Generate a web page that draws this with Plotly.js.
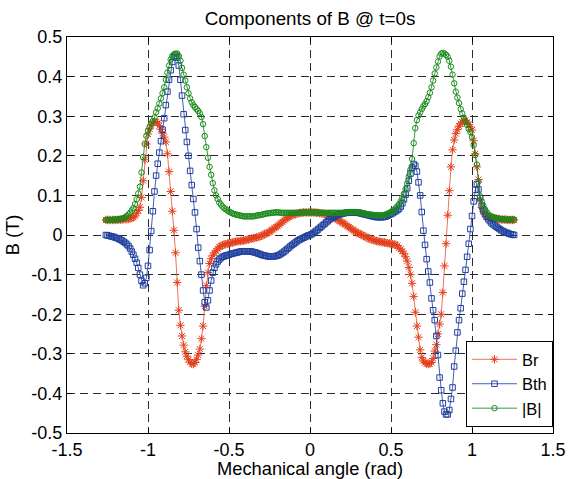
<!DOCTYPE html>
<html>
<head>
<meta charset="utf-8">
<script src="https://cdn.plot.ly/plotly-3.0.1.min.js"></script>
<style>html,body{margin:0;padding:0;background:#fff;}#chart{width:568px;height:479px;}</style>
</head>
<body>
<div id="chart"></div>
<script>
// Mechanical angle (rad)
const angle = [
-1.26,-1.25,-1.24,-1.23,-1.22,-1.21,-1.20,-1.19,-1.18,-1.17,
-1.16,-1.15,-1.14,-1.13,-1.12,-1.11,-1.10,-1.09,-1.08,-1.07,
-1.06,-1.05,-1.04,-1.03,-1.02,-1.01,-1.00,-0.99,-0.98,-0.97,
-0.96,-0.95,-0.94,-0.93,-0.92,-0.91,-0.90,-0.89,-0.88,-0.87,
-0.86,-0.85,-0.84,-0.83,-0.82,-0.81,-0.80,-0.79,-0.78,-0.77,
-0.76,-0.75,-0.74,-0.73,-0.72,-0.71,-0.70,-0.69,-0.68,-0.67,
-0.66,-0.65,-0.64,-0.63,-0.62,-0.61,-0.60,-0.59,-0.58,-0.57,
-0.56,-0.55,-0.54,-0.53,-0.52,-0.51,-0.50,-0.49,-0.48,-0.47,
-0.46,-0.45,-0.44,-0.43,-0.42,-0.41,-0.40,-0.39,-0.38,-0.37,
-0.36,-0.35,-0.34,-0.33,-0.32,-0.31,-0.30,-0.29,-0.28,-0.27,
-0.26,-0.25,-0.24,-0.23,-0.22,-0.21,-0.20,-0.19,-0.18,-0.17,
-0.16,-0.15,-0.14,-0.13,-0.12,-0.11,-0.10,-0.09,-0.08,-0.07,
-0.06,-0.05,-0.04,-0.03,-0.02,-0.01,0.00,0.01,0.02,0.03,
0.04,0.05,0.06,0.07,0.08,0.09,0.10,0.11,0.12,0.13,
0.14,0.15,0.16,0.17,0.18,0.19,0.20,0.21,0.22,0.23,
0.24,0.25,0.26,0.27,0.28,0.29,0.30,0.31,0.32,0.33,
0.34,0.35,0.36,0.37,0.38,0.39,0.40,0.41,0.42,0.43,
0.44,0.45,0.46,0.47,0.48,0.49,0.50,0.51,0.52,0.53,
0.54,0.55,0.56,0.57,0.58,0.59,0.60,0.61,0.62,0.63,
0.64,0.65,0.66,0.67,0.68,0.69,0.70,0.71,0.72,0.73,
0.74,0.75,0.76,0.77,0.78,0.79,0.80,0.81,0.82,0.83,
0.84,0.85,0.86,0.87,0.88,0.89,0.90,0.91,0.92,0.93,
0.94,0.95,0.96,0.97,0.98,0.99,1.00,1.01,1.02,1.03,
1.04,1.05,1.06,1.07,1.08,1.09,1.10,1.11,1.12,1.13,
1.14,1.15,1.16,1.17,1.18,1.19,1.20,1.21,1.22,1.23,
1.24,1.25,1.26
];

// Br (T)
const Br = [
0.038,0.038,0.038,0.038,0.038,0.038,0.038,0.038,0.039,0.039,
0.039,0.040,0.040,0.040,0.041,0.042,0.043,0.045,0.048,0.055,
0.062,0.070,0.095,0.137,0.190,0.230,0.255,0.268,0.278,0.283,
0.286,0.286,0.283,0.276,0.267,0.257,0.247,0.235,0.205,0.160,
0.110,0.060,0.012,-0.045,-0.120,-0.190,-0.228,-0.255,-0.278,-0.295,
-0.306,-0.315,-0.321,-0.325,-0.326,-0.322,-0.314,-0.303,-0.288,-0.262,
-0.230,-0.180,-0.128,-0.095,-0.072,-0.060,-0.051,-0.045,-0.040,-0.035,
-0.030,-0.028,-0.026,-0.024,-0.023,-0.022,-0.021,-0.020,-0.019,-0.018,
-0.017,-0.016,-0.016,-0.015,-0.015,-0.014,-0.013,-0.012,-0.011,-0.010,
-0.009,-0.008,-0.007,-0.006,-0.005,-0.004,-0.002,0.000,0.002,0.004,
0.006,0.008,0.011,0.014,0.017,0.020,0.023,0.026,0.030,0.033,
0.037,0.040,0.043,0.046,0.048,0.050,0.052,0.053,0.054,0.055,
0.056,0.056,0.057,0.057,0.057,0.057,0.057,0.057,0.057,0.057,
0.056,0.056,0.055,0.055,0.054,0.053,0.052,0.051,0.050,0.048,
0.046,0.044,0.041,0.039,0.036,0.034,0.031,0.029,0.026,0.023,
0.020,0.017,0.014,0.011,0.009,0.006,0.004,0.002,0.000,-0.002,
-0.004,-0.006,-0.008,-0.010,-0.011,-0.013,-0.014,-0.015,-0.016,-0.017,
-0.018,-0.018,-0.019,-0.020,-0.021,-0.021,-0.022,-0.023,-0.024,-0.025,
-0.027,-0.033,-0.036,-0.041,-0.047,-0.055,-0.066,-0.082,-0.100,-0.122,
-0.155,-0.195,-0.230,-0.258,-0.290,-0.309,-0.318,-0.322,-0.325,-0.326,
-0.325,-0.322,-0.312,-0.293,-0.277,-0.250,-0.225,-0.200,-0.145,-0.078,
-0.022,0.050,0.112,0.172,0.215,0.240,0.256,0.266,0.275,0.281,
0.285,0.288,0.289,0.285,0.279,0.273,0.265,0.238,0.205,0.172,
0.140,0.090,0.070,0.060,0.052,0.048,0.045,0.044,0.043,0.042,
0.041,0.041,0.040,0.040,0.039,0.039,0.039,0.039,0.038,0.038,
0.038,0.038,0.038
];

// Bth (T)
const Bth = [
0.000,-0.001,-0.002,-0.003,-0.004,-0.005,-0.007,-0.008,-0.010,-0.012,
-0.014,-0.017,-0.020,-0.024,-0.028,-0.034,-0.042,-0.050,-0.060,-0.070,
-0.083,-0.100,-0.116,-0.127,-0.122,-0.108,-0.078,-0.038,0.010,0.060,
0.110,0.150,0.180,0.208,0.237,0.266,0.295,0.328,0.362,0.392,
0.416,0.437,0.449,0.453,0.448,0.428,0.392,0.352,0.305,0.265,
0.235,0.200,0.162,0.126,0.091,0.057,0.015,-0.032,-0.066,-0.100,
-0.140,-0.170,-0.183,-0.165,-0.140,-0.115,-0.095,-0.083,-0.074,-0.067,
-0.062,-0.058,-0.055,-0.054,-0.052,-0.051,-0.050,-0.048,-0.047,-0.046,
-0.045,-0.044,-0.043,-0.042,-0.041,-0.041,-0.041,-0.041,-0.041,-0.041,
-0.042,-0.043,-0.044,-0.045,-0.047,-0.048,-0.050,-0.051,-0.052,-0.053,
-0.054,-0.054,-0.054,-0.054,-0.054,-0.053,-0.052,-0.050,-0.048,-0.045,
-0.042,-0.039,-0.035,-0.032,-0.028,-0.025,-0.022,-0.019,-0.016,-0.013,
-0.011,-0.009,-0.007,-0.005,-0.003,-0.001,0.000,0.002,0.005,0.008,
0.011,0.014,0.018,0.021,0.025,0.028,0.032,0.035,0.039,0.042,
0.044,0.046,0.048,0.050,0.052,0.053,0.054,0.055,0.056,0.056,
0.057,0.057,0.057,0.057,0.057,0.056,0.056,0.055,0.054,0.053,
0.052,0.051,0.050,0.049,0.048,0.047,0.046,0.045,0.045,0.045,
0.045,0.045,0.046,0.047,0.049,0.051,0.053,0.055,0.058,0.060,
0.063,0.066,0.072,0.080,0.090,0.102,0.118,0.137,0.155,0.170,
0.179,0.175,0.160,0.133,0.100,0.058,0.011,-0.025,-0.061,-0.092,
-0.120,-0.160,-0.190,-0.215,-0.255,-0.303,-0.360,-0.392,-0.425,-0.446,
-0.453,-0.453,-0.442,-0.414,-0.385,-0.332,-0.292,-0.246,-0.215,-0.185,
-0.148,-0.118,-0.088,-0.055,-0.022,0.015,0.048,0.085,0.114,0.128,
0.115,0.093,0.074,0.062,0.053,0.046,0.040,0.035,0.030,0.027,
0.024,0.021,0.018,0.015,0.012,0.010,0.008,0.006,0.005,0.003,
0.002,0.001,0.000
];

// |B| (T)
const Babs = [
0.038,0.038,0.038,0.038,0.038,0.039,0.039,0.039,0.040,0.040,
0.041,0.043,0.045,0.048,0.052,0.056,0.062,0.068,0.078,0.090,
0.105,0.122,0.158,0.197,0.230,0.250,0.263,0.272,0.281,0.288,
0.297,0.310,0.320,0.332,0.345,0.358,0.373,0.392,0.410,0.428,
0.443,0.452,0.456,0.458,0.458,0.452,0.440,0.422,0.405,0.390,
0.373,0.358,0.345,0.335,0.328,0.323,0.318,0.313,0.307,0.298,
0.280,0.250,0.222,0.195,0.172,0.152,0.131,0.113,0.100,0.091,
0.082,0.077,0.072,0.068,0.065,0.062,0.059,0.057,0.055,0.053,
0.052,0.051,0.050,0.049,0.048,0.047,0.047,0.047,0.047,0.047,
0.047,0.047,0.048,0.049,0.050,0.050,0.051,0.052,0.053,0.054,
0.055,0.055,0.056,0.056,0.057,0.057,0.057,0.057,0.056,0.056,
0.056,0.056,0.056,0.056,0.056,0.056,0.056,0.056,0.056,0.056,
0.057,0.057,0.057,0.057,0.057,0.057,0.057,0.057,0.057,0.057,
0.057,0.057,0.056,0.056,0.056,0.056,0.056,0.056,0.056,0.056,
0.056,0.056,0.056,0.056,0.056,0.056,0.056,0.056,0.057,0.057,
0.058,0.058,0.058,0.058,0.058,0.058,0.057,0.057,0.056,0.055,
0.054,0.053,0.052,0.052,0.051,0.051,0.050,0.050,0.050,0.050,
0.050,0.050,0.051,0.052,0.054,0.056,0.058,0.061,0.064,0.068,
0.073,0.078,0.085,0.094,0.104,0.116,0.130,0.148,0.165,0.192,
0.232,0.270,0.290,0.302,0.310,0.318,0.325,0.331,0.338,0.348,
0.359,0.373,0.390,0.408,0.423,0.438,0.451,0.458,0.460,0.458,
0.455,0.450,0.440,0.425,0.405,0.383,0.362,0.347,0.333,0.318,
0.307,0.296,0.287,0.278,0.268,0.260,0.247,0.227,0.202,0.178,
0.135,0.098,0.084,0.074,0.065,0.058,0.052,0.049,0.047,0.045,
0.044,0.043,0.042,0.041,0.040,0.040,0.039,0.039,0.039,0.039,
0.039,0.039,0.039
];

const seriesNames = ['Br', 'Bth', '|B|'];
const xTicks = [-1.5, -1, -0.5, 0, 0.5, 1, 1.5];
const yTicks = [-0.5, -0.4, -0.3, -0.2, -0.1, 0, 0.1, 0.2, 0.3, 0.4, 0.5];

const FONT = 'Liberation Sans, Arial, Helvetica, sans-serif';

const traces = [
  {x: angle, y: Br, name: seriesNames[0], type: 'scatter', mode: 'lines+markers',
   line: {color: 'rgba(232,80,50,0.8)', width: 1},
   marker: {symbol: 'asterisk-open', size: 7, color: '#e4401c', line: {color: '#e4401c', width: 1}}},
  {x: angle, y: Bth, name: seriesNames[1], type: 'scatter', mode: 'lines+markers',
   line: {color: 'rgba(40,65,165,0.85)', width: 1},
   marker: {symbol: 'square-open', size: 5.5, color: '#20409e', line: {color: '#20409e', width: 1}}},
  {x: angle, y: Babs, name: seriesNames[2], type: 'scatter', mode: 'lines+markers',
   line: {color: 'rgba(25,135,25,0.85)', width: 1},
   marker: {symbol: 'circle-open', size: 5.5, color: '#1a8a1a', line: {color: '#1a8a1a', width: 1}}}
];

const axisCommon = {
  showgrid: true, gridcolor: '#2a2a2a', gridwidth: 1, griddash: '8px,5px',
  zeroline: false, showline: true, linecolor: 'black', linewidth: 1, mirror: 'ticks',
  ticks: 'inside', ticklen: 5, tickcolor: 'black', tickwidth: 1,
  tickfont: {family: FONT, size: 18, color: 'black'}
};

const layout = {
  width: 568, height: 479,
  margin: {l: 67, r: 15, t: 37, b: 46, pad: 0},
  paper_bgcolor: 'white', plot_bgcolor: 'white',
  font: {family: FONT, size: 18, color: 'black'},
  title: {text: 'Components of B @ t=0s', x: 0.5, xref: 'paper', xanchor: 'center',
          y: 1 - 18 / 479, yref: 'container', yanchor: 'middle',
          font: {family: FONT, size: 18.8, color: 'black'}},
  xaxis: Object.assign({}, axisCommon, {
    range: [-1.5, 1.5], tickmode: 'array', tickvals: xTicks, ticktext: xTicks.map(String),
    title: {text: 'Mechanical angle (rad)', standoff: 1, font: {family: FONT, size: 18.3, color: 'black'}}
  }),
  yaxis: Object.assign({}, axisCommon, {
    range: [-0.5, 0.5], tickmode: 'array', tickvals: yTicks, ticktext: yTicks.map(String),
    title: {text: 'B (T)', standoff: 6, font: {family: FONT, size: 18.3, color: 'black'}}
  }),
  showlegend: true,
  legend: {x: 1, xanchor: 'right', y: 0.015, yanchor: 'bottom', bgcolor: 'white',
           bordercolor: 'black', borderwidth: 1, font: {family: FONT, size: 16.5, color: 'black'},
           itemwidth: 45, tracegroupgap: 0}
};

Plotly.newPlot('chart', traces, layout, {staticPlot: true, displayModeBar: false});
</script>
</body>
</html>
